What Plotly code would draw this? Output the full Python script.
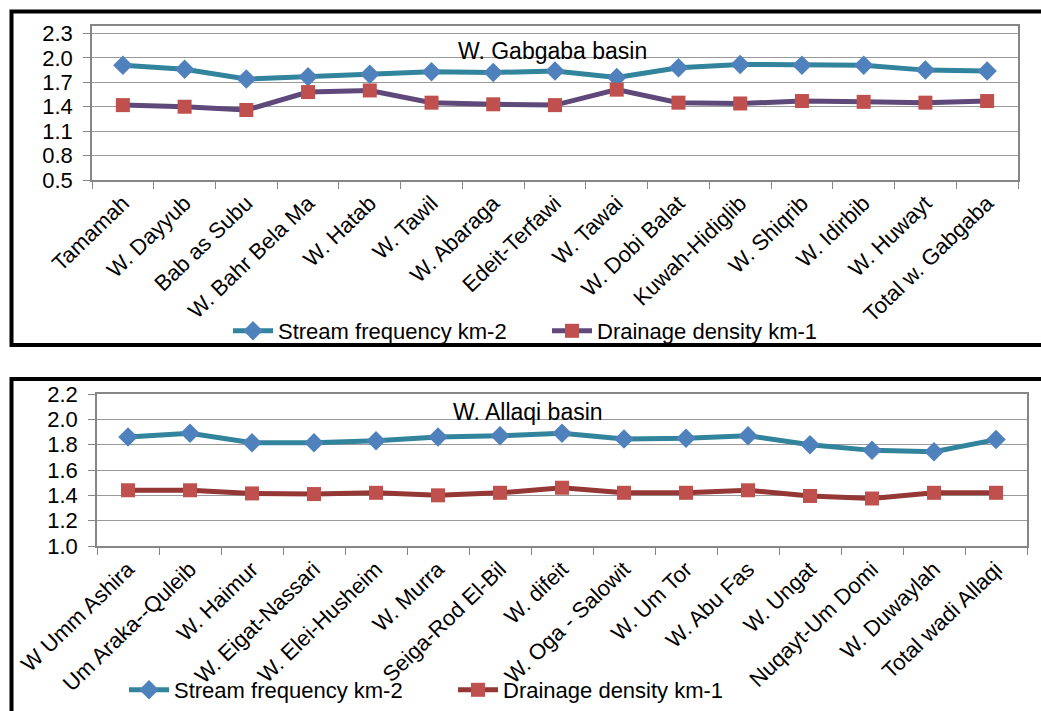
import plotly.graph_objects as go

W, H = 1041, 711

gab_cats = ["Tamamah", "W. Dayyub", "Bab as Subu", "W. Bahr Bela Ma", "W. Hatab", "W. Tawil",
            "W. Abaraga", "Edeit-Terfawi", "W. Tawai", "W. Dobi Balat", "Kuwah-Hidiglib",
            "W. Shiqrib", "W. Idirbib", "W. Huwayt", "Total w. Gabgaba"]
gab_stream = [1.91, 1.86, 1.74, 1.77, 1.80, 1.83, 1.82, 1.84, 1.76, 1.88, 1.92, 1.91, 1.91, 1.85, 1.84]
gab_drain = [1.42, 1.40, 1.36, 1.58, 1.60, 1.45, 1.43, 1.42, 1.61, 1.45, 1.44, 1.47, 1.46, 1.45, 1.47]

all_cats = ["W Umm Ashira", "Um Araka--Quleib", "W. Haimur", "W. Eigat-Nassari", "W. Elei-Husheim",
            "W. Murra", "Seiga-Rod El-Bil", "W. difeit", "W. Oga - Salowit", "W. Um Tor",
            "W. Abu Fas", "W. Ungat", "Nuqayt-Um Domi", "W. Duwaylah", "Total wadi Allaqi"]
all_stream = [1.86, 1.89, 1.815, 1.815, 1.83, 1.86, 1.87, 1.89, 1.845, 1.85, 1.87, 1.80, 1.755, 1.745, 1.84]
all_drain = [1.44, 1.44, 1.415, 1.41, 1.42, 1.40, 1.42, 1.46, 1.42, 1.42, 1.44, 1.395, 1.375, 1.42, 1.42]

top_ticks = [0.5, 0.8, 1.1, 1.4, 1.7, 2.0, 2.3]
bot_ticks = [1.0, 1.2, 1.4, 1.6, 1.8, 2.0, 2.2]

FONT = "Liberation Sans, Arial, sans-serif"
TEAL = "#31849B"
BLUE = "#4F81BD"
RED = "#C0504D"
PURPLE = "#5F497A"
DRED = "#953735"
GRID = "#9A9A9A"
AXIS = "#868686"

def px(x):
    return x / W

def py(y):
    return 1 - y / H

fig = go.Figure()

fig.add_trace(go.Scatter(x=gab_cats, y=gab_stream, mode="lines+markers", name="Stream frequency km-2",
                         line=dict(color=TEAL, width=5),
                         marker=dict(symbol="diamond", size=15, color=BLUE),
                         xaxis="x", yaxis="y", legend="legend"))
fig.add_trace(go.Scatter(x=gab_cats, y=gab_drain, mode="lines+markers", name="Drainage density km-1",
                         line=dict(color=PURPLE, width=5),
                         marker=dict(symbol="square", size=14, color=RED),
                         xaxis="x", yaxis="y", legend="legend"))
fig.add_trace(go.Scatter(x=all_cats, y=all_stream, mode="lines+markers", name="Stream frequency km-2",
                         line=dict(color=TEAL, width=5),
                         marker=dict(symbol="diamond", size=15, color=BLUE),
                         xaxis="x2", yaxis="y2", legend="legend2"))
fig.add_trace(go.Scatter(x=all_cats, y=all_drain, mode="lines+markers", name="Drainage density km-1",
                         line=dict(color=DRED, width=5),
                         marker=dict(symbol="square", size=14, color=RED),
                         xaxis="x2", yaxis="y2", legend="legend2"))

xcommon = dict(type="category", tickson="boundaries", ticks="outside", ticklen=7, tickcolor=AXIS,
               showline=True, linecolor=AXIS, linewidth=1.5, mirror=True, showgrid=False,
               tickangle=-44, tickfont=dict(family=FONT, size=22, color="#000"), automargin=False,
               range=[-0.5, 14.5])
ycommon = dict(ticks="outside", ticklen=7, tickcolor=AXIS, showline=True, linecolor=AXIS, linewidth=1.5,
               mirror=True, showgrid=True, gridcolor=GRID, gridwidth=1, zeroline=False,
               tickfont=dict(family=FONT, size=22, color="#000"), automargin=False, tickformat=".1f",
               ticklabelstandoff=6)

fig.update_layout(
    width=W, height=H,
    margin=dict(l=0, r=0, t=0, b=0),
    paper_bgcolor="white", plot_bgcolor="white",
    font=dict(family=FONT, color="#000"),
    xaxis=dict(domain=[px(92), px(1018)], anchor="y", **xcommon),
    yaxis=dict(domain=[py(180), py(26)], anchor="x", range=[0.5, 2.392], tickvals=top_ticks, **ycommon),
    xaxis2=dict(domain=[px(97), px(1027)], anchor="y2", **xcommon),
    yaxis2=dict(domain=[py(546), py(394)], anchor="x2", range=[1.0, 2.2], tickvals=bot_ticks, **ycommon),
    legend=dict(orientation="h", x=px(228), y=py(331), xanchor="left", yanchor="middle",
                font=dict(family=FONT, size=22, color="#000"), bgcolor="rgba(0,0,0,0)",
                entrywidth=264, entrywidthmode="pixels", itemwidth=40),
    legend2=dict(orientation="h", x=px(124), y=0, xanchor="left", yanchor="bottom",
                 font=dict(family=FONT, size=22, color="#000"), bgcolor="rgba(0,0,0,0)",
                 entrywidth=274, entrywidthmode="pixels", itemwidth=40),
    showlegend=True,
    annotations=[
        dict(text="W. Gabgaba basin", x=px(552), y=py(51), xref="paper", yref="paper",
             showarrow=False, font=dict(family=FONT, size=23, color="#000"),
             xanchor="center", yanchor="middle"),
        dict(text="W. Allaqi basin", x=px(528), y=py(412), xref="paper", yref="paper",
             showarrow=False, font=dict(family=FONT, size=23, color="#000"),
             xanchor="center", yanchor="middle"),
    ],
    shapes=[
        dict(type="rect", xref="paper", yref="paper", x0=px(11.5), x1=px(1046), y0=py(11.5), y1=py(345),
             line=dict(color="black", width=4), fillcolor="rgba(0,0,0,0)", layer="above"),
        dict(type="rect", xref="paper", yref="paper", x0=px(11.5), x1=px(1046), y0=py(379), y1=py(716),
             line=dict(color="black", width=4), fillcolor="rgba(0,0,0,0)", layer="above"),
    ],
)

fig.write_html("out.html")
